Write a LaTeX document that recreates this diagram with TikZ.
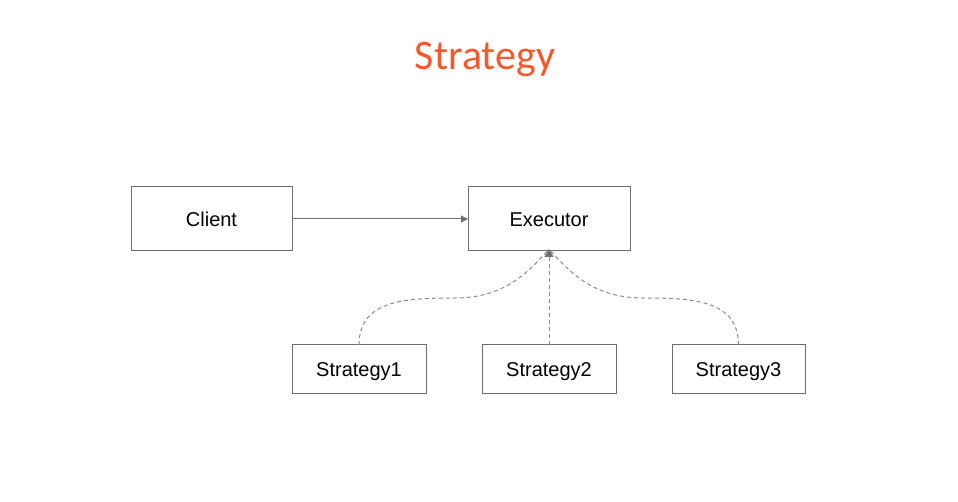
\documentclass[tikz,border=0pt]{standalone}
\usepackage{fontspec}
\setmainfont{Liberation Sans}
\newfontfamily\titlefont{Carlito}
\usetikzlibrary{arrows.meta}
\definecolor{titleor}{HTML}{F5592B}
\definecolor{boxline}{HTML}{6E6E6E}
\definecolor{conn}{HTML}{707070}
\definecolor{dashc}{HTML}{8A8A8A}
\tikzset{
  box/.style={draw=boxline, line width=1pt, fill=white, inner sep=0pt, outer sep=0pt,
    font=\fontsize{20}{24}\selectfont, text=black, text height=20pt, text depth=4pt},
  solidconn/.style={draw=conn, line width=1pt, -{Triangle[length=7pt,width=7pt]}},
  dashconn/.style={draw=dashc, line width=1pt, dash pattern=on 4pt off 3pt},
  dashtip/.style={dashconn, -{Triangle[length=8pt,width=9pt,fill=conn,color=conn]}}
}
\begin{document}
\begin{tikzpicture}[x=1pt,y=-1pt]
\useasboundingbox (0,0) rectangle (958,502);
\node[text=titleor, font=\titlefont\fontsize{42}{48}\selectfont] (title) at (485,59) {Strategy};
\node[box, minimum width=161pt, minimum height=64pt] (client) at (211.5,219) {Client};
\node[box, minimum width=162pt, minimum height=64pt] (ex) at (549,219) {Executor};
\node[box, minimum width=134pt, minimum height=48pt] (s1) at (359,369) {Strategy1};
\node[box, minimum width=134pt, minimum height=48pt] (s2) at (549,369) {Strategy2};
\node[box, minimum width=133pt, minimum height=48pt] (s3) at (738.5,369) {Strategy3};
\coordinate (m1) at (455,298);
\coordinate (m3) at (643,298);
\coordinate (tip) at ([yshift=2pt]ex.south);
\draw[solidconn] (client.east) -- (ex.west);
\draw[dashconn] (s1.north) .. controls +(0,-45) and +(-50,0) .. (m1) .. controls +(48,0) and +(-22,25) .. (tip);
\draw[dashtip] (s2.north) -- (tip);
\draw[dashconn] (s3.north) .. controls +(0,-45) and +(50,0) .. (m3) .. controls +(-48,0) and +(22,25) .. (tip);
\end{tikzpicture}
\end{document}
